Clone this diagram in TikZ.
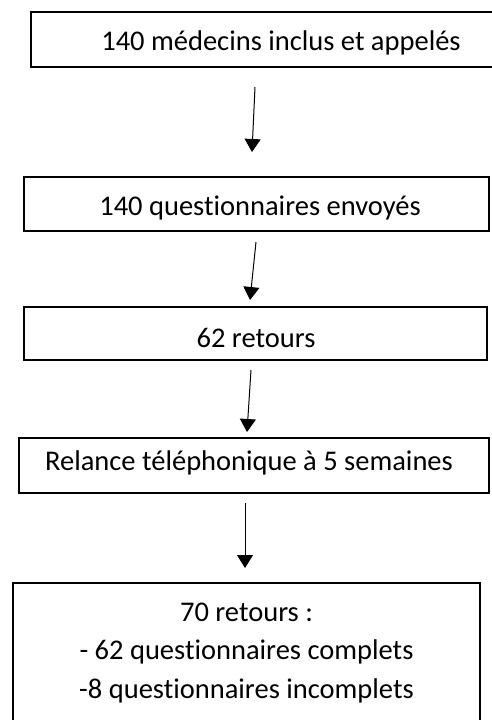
\documentclass[tikz,border=0pt]{standalone}
\usepackage{fontspec}
\setmainfont[Ligatures={NoCommon,NoContextual}]{Carlito}
\usetikzlibrary{arrows.meta}

\tikzset{
  cadre/.style={draw, line width=2pt, inner sep=0pt},
  texte/.style={font=\fontsize{28.5}{38.5}\selectfont, inner sep=0pt},
  fleche/.style={line width=1pt, -{Triangle[width=16pt,length=13pt]}}
}

\begin{document}
\begin{tikzpicture}[x=1pt,y=-1pt]
            \useasboundingbox (0,0) rectangle (492,720);

            % boxes
            \node[cadre, minimum width=463pt, minimum height=55pt] (b1) at (262.5,39.5) {};
            \node[cadre, minimum width=465pt, minimum height=54pt] (b2) at (256.5,204) {};
            \node[cadre, minimum width=463pt, minimum height=53pt] (b3) at (255.5,333.5) {};
            \node[cadre, minimum width=470pt, minimum height=55pt] (b4) at (254,465.5) {};
            \node[cadre, minimum width=467pt, minimum height=139pt] (b5) at (246.5,652.5) {};

            % texts
            \node[texte, anchor=base] (t1) at (281,50) {140 médecins inclus et appelés};
            \node[texte, anchor=base] (t2) at (260,215) {140 questionnaires envoyés};
            \node[texte, anchor=base] (t3) at (256,347) {62 retours};
            \node[texte, anchor=base] (t4) at (249,470) {Relance téléphonique à 5 semaines};
            \node[texte, align=center] (t5) at (246.5,653) {70 retours :\\- 62 questionnaires complets\\-8 questionnaires incomplets};

            % arrows
            \coordinate (d1) at (255,87);  \coordinate (f1) at (252,152);
            \coordinate (d2) at (256,242); \coordinate (f2) at (250,300);
            \coordinate (d3) at (251,370); \coordinate (f3) at (247,432);
            \coordinate (d4) at (245,503); \coordinate (f4) at (245,568);
            \draw[fleche] (d1) -- (f1);
            \draw[fleche] (d2) -- (f2);
            \draw[fleche] (d3) -- (f3);
            \draw[fleche] (d4) -- (f4);
        \end{tikzpicture}
\end{document}
